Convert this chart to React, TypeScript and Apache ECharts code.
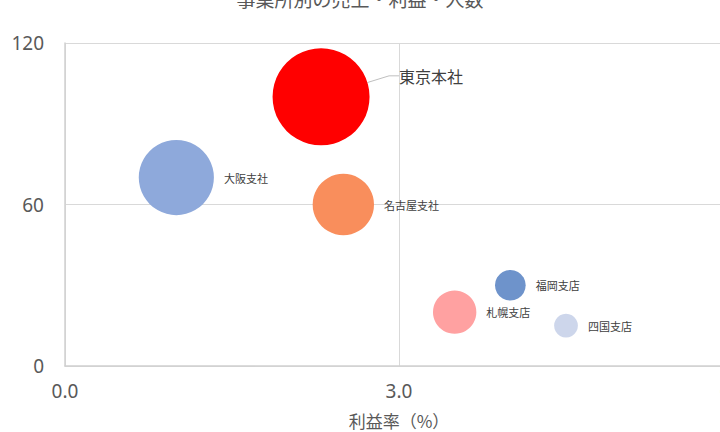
import React, { useEffect, useRef } from "react";
import * as echarts from "echarts";

const names = ["東京本社", "大阪支社", "名古屋支社", "福岡支店", "札幌支店", "四国支店"];
const profitRate = [2.3, 1.0, 2.5, 4.0, 3.5, 4.5];
const sales = [100, 70, 60, 30, 20, 15];
const staff = [100, 60, 40, 10, 20, 6];
const colors = ["#FF0000", "#8EA9DB", "#F98E5C", "#6E93CB", "#FFA1A1", "#CDD6EB"];
const xTicks = [0, 3, 6];
const yTicks = [0, 60, 120];

const MAX_DIAM = 97;

export default function App() {
  const ref = useRef<HTMLDivElement>(null);
  useEffect(() => {
    if (!ref.current) return;
    const chart = echarts.init(ref.current, undefined, { renderer: "svg" });
    const maxStaff = Math.max(...staff);
    const data = names.map((n, i) => {
      const item: any = {
        name: n,
        value: [profitRate[i], sales[i], staff[i]],
        itemStyle: { color: colors[i], opacity: 1 },
      };
      if (i === 0) {
        item.label = {
          position: "inside",
          fontSize: 16,
          color: "#404040",
        };
        item.labelLine = {
          show: true,
          length2: 10,
          lineStyle: { color: "#BFBFBF", width: 1 },
        };
      }
      return item;
    });
    chart.setOption({
      animation: false,
      title: {
        text: "事業所別の売上・利益・人数",
        left: "center",
        top: -16,
        textStyle: { fontSize: 19, fontWeight: "normal", color: "#595959", fontFamily: "Noto Sans CJK JP" },
      },
      grid: { left: 65, top: 43, right: -13, bottom: 66, outerBoundsMode: "none", containLabel: false },
      xAxis: {
        type: "value",
        min: xTicks[0],
        max: xTicks[xTicks.length - 1],
        interval: xTicks[1] - xTicks[0],
        name: "利益率（%）",
        nameLocation: "middle",
        nameGap: 46,
        nameTextStyle: { fontSize: 17, color: "#595959", fontFamily: "Noto Sans CJK JP" },
        axisLine: { show: true, lineStyle: { color: "#D0D0D0", width: 1.5 } },
        axisTick: { show: false },
        axisLabel: {
          fontSize: 19,
          color: "#595959",
          margin: 15,
          fontFamily: "Noto Sans",
          hideOverlap: false,
          formatter: (v: number) => v.toFixed(1),
        },
        splitLine: { show: true, lineStyle: { color: "#D9D9D9", width: 1 } },
      },
      yAxis: {
        type: "value",
        min: yTicks[0],
        max: yTicks[yTicks.length - 1],
        interval: yTicks[1] - yTicks[0],
        axisLine: { show: true, lineStyle: { color: "#D0D0D0", width: 1.5 } },
        axisTick: { show: false },
        axisLabel: { fontSize: 19, color: "#595959", margin: 21, fontFamily: "Noto Sans" },
        splitLine: { show: true, lineStyle: { color: "#D9D9D9", width: 1 } },
      },
      series: [
        {
          type: "scatter",
          data,
          symbolSize: (v: number[]) => MAX_DIAM * Math.sqrt(v[2] / maxStaff),
          label: {
            show: true,
            position: "right",
            distance: 10,
            formatter: "{b}",
            fontSize: 11,
            color: "#404040",
            fontFamily: "Noto Sans CJK JP",
          },
          labelLayout: (p: any) => (p.dataIndex === 0 ? { dx: 110, dy: -21 } : {}),
        },
      ],
    });
    return () => chart.dispose();
  }, []);
  return (
    <div
      ref={ref}
      style={{ position: "fixed", left: 0, top: 0, width: 720, height: 432, background: "#fff" }}
    />
  );
}
